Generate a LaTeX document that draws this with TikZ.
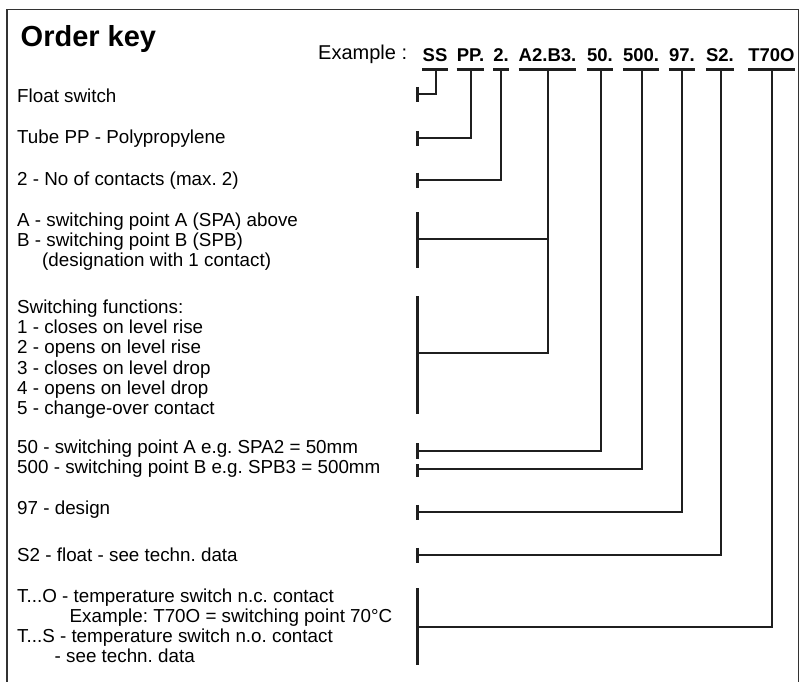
\documentclass[tikz,border=0pt]{standalone}
\usepackage{fontspec}
\setmainfont{Liberation Sans}
\usetikzlibrary{positioning, calc}
\frenchspacing

\begin{document}
\begin{tikzpicture}[
    x=1pt, y=-1pt,
    desc/.style={anchor=base west, inner sep=0pt, font=\fontsize{18.8}{20}\selectfont},
    code/.style={anchor=base, inner sep=0pt, font=\fontsize{18.5}{20}\selectfont\bfseries},
    link/.style={line width=2.1pt, draw=black!88},
    tick/.style={line width=2.6pt, draw=black!88},
    frame/.style={line width=1.4pt, draw=black!80}
]
    \useasboundingbox (0,0) rectangle (804,681);
    \draw[frame] (7,690) |- (798.5,9.5) -- (798.5,690);

    % heading
    \node[anchor=base west, inner sep=0pt, font=\fontsize{29}{30}\selectfont\bfseries] (title) at (20.5,46.5) {Order key};
    \node[anchor=base west, inner sep=0pt, font=\fontsize{20}{20}\selectfont] (example) at (318,59.5) {Example :};

    % order code
    \node[code] (c-ss) at (435,61.5) {SS};
    \node[code] (c-pp) at (470.5,61.5) {PP.};
    \node[code] (c-no) at (501,61.5) {2.};
    \node[code] (c-ab) at (547.5,61.5) {A2.B3.};
    \node[code] (c-pa) at (600,61.5) {50.};
    \node[code] (c-pb) at (641,61.5) {500.};
    \node[code] (c-de) at (682,61.5) {97.};
    \node[code] (c-fl) at (720,61.5) {S2.};
    \node[code] (c-te) at (771.5,61.5) {T70O};

    % descriptions
    \node[desc] (d-float) at (17,102.3) {Float switch};
    \node[desc] (d-tube) at (17,143.3) {Tube PP - Polypropylene};
    \node[desc] (d-contacts) at (17,185) {2 - No of contacts (max. 2)};
    \node[desc] (d-spa) at (17,226.7) {A - switching point A (SPA) above};
    \node[desc] (d-spb) at (17,246.7) {B - switching point B (SPB)};
    \node[desc] (d-desig) at (42,266.7) {(designation with 1 contact)};
    \node[desc] (d-func) at (17,313.5) {Switching functions:};
    \node[desc] (d-f1) at (17,333.7) {1 - closes on level rise};
    \node[desc] (d-f2) at (17,353.9) {2 - opens on level rise};
    \node[desc] (d-f3) at (17,374.1) {3 - closes on level drop};
    \node[desc] (d-f4) at (17,394.3) {4 - opens on level drop};
    \node[desc] (d-f5) at (17,414.5) {5 - change-over contact};
    \node[desc] (d-pa) at (17,453.5) {50 - switching point A e.g. SPA2 = 50mm};
    \node[desc] (d-pb) at (17,473.5) {500 - switching point B e.g. SPB3 = 500mm};
    \node[desc] (d-design) at (17,514) {97 - design};
    \node[desc] (d-s2) at (17,561) {S2 - float - see techn. data};
    \node[desc] (d-to) at (17,602.5) {T...O - temperature switch n.c. contact};
    \node[desc] (d-toex) at (69.5,622.5) {Example: T70O = switching point 70°C};
    \node[desc] (d-ts) at (17,642.5) {T...S - temperature switch n.o. contact};
    \node[desc] (d-tsdata) at (54.5,662.5) {- see techn. data};

    % underlines
    \coordinate (u-ss) at (435.7,69.5);
    \coordinate (u-pp) at (470.7,69.5);
    \coordinate (u-no) at (500.7,69.5);
    \coordinate (u-ab) at (547.7,69.5);
    \coordinate (u-pa) at (601,69.5);
    \coordinate (u-pb) at (641.7,69.5);
    \coordinate (u-de) at (682.3,69.5);
    \coordinate (u-fl) at (721,69.5);
    \coordinate (u-te) at (771.7,69.5);
    \foreach \c in {ss,pp,no,ab,pa,pb,de,fl,te}
        \draw[link] (c-\c.base west |- u-\c) -- (c-\c.base east |- u-\c);

    % ticks and brackets
    \coordinate (t-ss) at (417.5,94.3);
    \coordinate (t-pp) at (417.5,138.3);
    \coordinate (t-no) at (417.5,180);
    \coordinate (t-ab) at (417.5,239.3);
    \coordinate (t-func) at (417.5,352.7);
    \coordinate (t-pa) at (417.5,451);
    \coordinate (t-pb) at (417.5,469.3);
    \coordinate (t-de) at (417.5,512.3);
    \coordinate (t-fl) at (417.5,555.3);
    \coordinate (t-te) at (417.5,626.7);
    \foreach \t in {ss,pp,no,de,fl}
        \draw[tick] ($(t-\t)+(0,-7.5)$) -- ($(t-\t)+(0,7.5)$);
    \draw[tick] ($(t-pa)+(0,-7.7)$) -- ($(t-pa)+(0,8)$);
    \draw[tick] ($(t-pb)+(0,-5.3)$) -- ($(t-pb)+(0,7.4)$);
    \draw[link] ($(t-ab)+(0,-27)$) -- ($(t-ab)+(0,29)$);
    \draw[link] ($(t-func)+(0,-56.7)$) -- ($(t-func)+(0,61.6)$);
    \draw[link] ($(t-te)+(0,-38.4)$) -- ($(t-te)+(0,38.3)$);

    % connectors
    \draw[link] (u-ss) |- (t-ss);
    \draw[link] (u-pp) |- (t-pp);
    \draw[link] (u-no) |- (t-no);
    \draw[link] (u-ab) |- (t-func);
    \draw[link] (u-ab |- t-ab) -- (t-ab);
    \draw[link] (u-pa) |- (t-pa);
    \draw[link] (u-pb) |- (t-pb);
    \draw[link] (u-de) |- (t-de);
    \draw[link] (u-fl) |- (t-fl);
    \draw[link] (u-te) |- (t-te);
\end{tikzpicture}
\end{document}
